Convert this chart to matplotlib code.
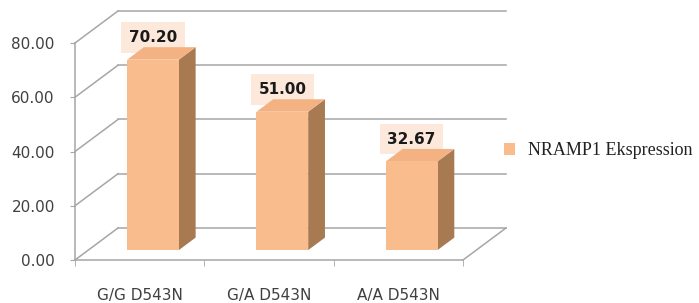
import matplotlib.pyplot as plt
from matplotlib.patches import Polygon, Patch

categories = ["G/G D543N", "G/A D543N", "A/A D543N"]
values = [70.20, 51.00, 32.67]
yticks = [0, 20, 40, 60, 80]
series_name = "NRAMP1 Ekspression"

front_col = "#F9BC8C"
side_col = "#A87A52"
top_col = "#F4B282"
grid_col = "#A6A6A6"
text_col = "#404040"

# oblique depth of the "3d" box, in data units
DX, DY = 0.3325, 11.8
f0, f1 = 0.31, 0.70   # bar front / back depth fraction
w = 0.40

fig = plt.figure(figsize=(6.99, 3.03), dpi=100)
ax = fig.add_axes([75 / 699, 43 / 303, 388 / 699, 217 / 303])
ax.set_xlim(-0.5, 2.5)
ax.set_ylim(0, 80)
ax.patch.set_visible(False)

# walls: left side gridlines + back wall gridlines
for t in yticks:
    ax.plot([-0.5, -0.5 + DX], [t, t + DY], color=grid_col, lw=1.1, clip_on=False, zorder=1)
    ax.plot([-0.5 + DX, 2.5 + DX], [t + DY, t + DY], color=grid_col, lw=1.1, clip_on=False, zorder=1)
# floor right edge
ax.plot([2.5, 2.5 + DX], [0, DY], color=grid_col, lw=1.1, clip_on=False, zorder=1)

# bars
ddx, ddy = (f1 - f0) * DX, (f1 - f0) * DY
for i, v in enumerate(values):
    xc = i + f0 * DX
    b = f0 * DY
    top = b + v
    xr, xl = xc + w / 2, xc - w / 2
    ax.add_patch(Polygon([(xr, b), (xr + ddx, b + ddy), (xr + ddx, top + ddy), (xr, top)],
                         closed=True, facecolor=side_col, edgecolor="none", zorder=4, clip_on=False))
    ax.add_patch(Polygon([(xl, top), (xr, top), (xr + ddx, top + ddy), (xl + ddx, top + ddy)],
                         closed=True, facecolor=top_col, edgecolor="none", zorder=4, clip_on=False))
    ax.bar(xc, v, width=w, bottom=b, color=front_col, edgecolor="none", zorder=5, clip_on=False)
    ax.annotate(f"{v:.2f}", xy=(xc, top), xytext=(0, 16), textcoords="offset points",
                ha="center", va="center", fontsize=11, fontweight="bold", color="#1a1a1a",
                zorder=3, annotation_clip=False,
                bbox=dict(boxstyle="square,pad=0.5", facecolor="#FCE9DB", edgecolor="none"))

# axes styling
for s in ["top", "right"]:
    ax.spines[s].set_visible(False)
for s in ["left", "bottom"]:
    ax.spines[s].set_color(grid_col)
    ax.spines[s].set_linewidth(1.1)

ax.set_yticks(yticks)
ax.set_yticklabels([f"{t:.2f}" for t in yticks])
ax.tick_params(axis="y", length=3.5, color=grid_col, pad=11, labelsize=11, labelcolor=text_col)

ax.set_xticks(range(len(categories)))
ax.set_xticklabels(categories)
ax.set_xticks([-0.5, 0.5, 1.5, 2.5], minor=True)
ax.tick_params(axis="x", which="major", length=0, pad=20, labelsize=11, labelcolor=text_col)
ax.tick_params(axis="x", which="minor", length=4.5, color=grid_col)

fig.legend(handles=[Patch(facecolor=front_col, edgecolor="none", label=series_name)],
           loc="center left", bbox_to_anchor=(504 / 699, 1 - 151 / 303),
           frameon=False, borderpad=0, borderaxespad=0,
           handlelength=0.6, handleheight=0.6, handletextpad=0.75,
           prop={"family": "Liberation Serif", "size": 13}, labelcolor="#222222")

fig.savefig("out.png", dpi=100)
